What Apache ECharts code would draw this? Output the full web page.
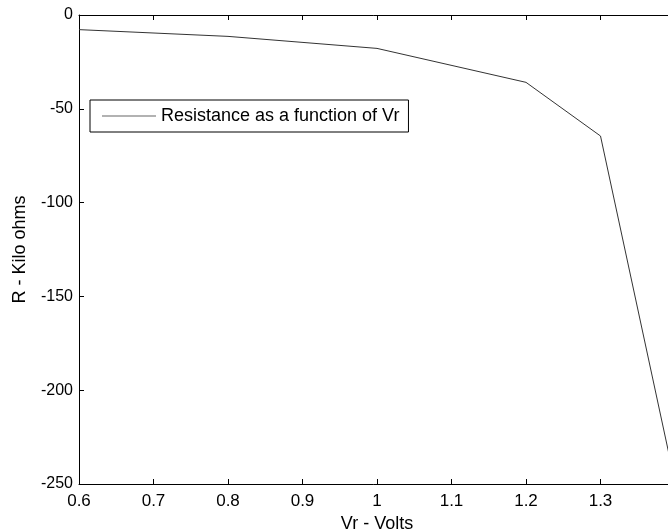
<!DOCTYPE html>
<html>
<head>
<meta charset="utf-8">
<script src="https://cdn.jsdelivr.net/npm/echarts@6/dist/echarts.min.js"></script>
<style>
  html, body { margin: 0; padding: 0; background: #fff; }
  #chart { width: 668px; height: 532px; }
</style>
</head>
<body>
<div id="chart"></div>
<script>
// Measured resistance versus reverse voltage
const voltage = [0.6, 0.8, 1.0, 1.2, 1.3, 1.4];
const resistance = [-7.8, -11.4, -17.8, -35.9, -64.5, -249];
const xTicks = [0.6, 0.7, 0.8, 0.9, 1.0, 1.1, 1.2, 1.3];
const yTicks = [0, -50, -100, -150, -200, -250];

const seriesName = 'Resistance as a function of Vr';
const font = 'Liberation Sans, Arial, sans-serif';

const chart = echarts.init(document.getElementById('chart'));

const fmtX = v => {
  const r = Math.round(v * 10) / 10;
  return xTicks.some(t => Math.abs(t - r) < 1e-9) ? String(r) : '';
};

chart.setOption({
  animation: false,
  backgroundColor: '#fff',
  // plot frame runs slightly past the right edge of the canvas
  grid: { left: 79, top: 15, width: 596, bottom: 48, outerBoundsMode: 'none', containLabel: false },
  legend: {
    left: 90, top: 100,
    data: [seriesName],
    icon: 'rect',
    backgroundColor: '#fff',
    borderColor: '#000', borderWidth: 1, borderRadius: 0,
    padding: [7, 9, 7, 12],
    itemWidth: 54, itemHeight: 1,
    itemStyle: { color: '#666' },
    textStyle: { fontFamily: font, fontSize: 18, color: '#000', lineHeight: 18 }
  },
  xAxis: [{
    type: 'value', position: 'bottom',
    min: 0.6, max: 1.4, interval: 0.1,
    name: 'Vr - Volts', nameLocation: 'middle', nameGap: 17,
    nameTextStyle: { fontFamily: font, fontSize: 18, color: '#000' },
    axisLine: { onZero: false, lineStyle: { color: '#000', width: 1 } },
    axisTick: { inside: true, length: 5, lineStyle: { color: '#000' } },
    axisLabel: { formatter: fmtX, fontFamily: font, fontSize: 17, color: '#000', margin: 9 },
    splitLine: { show: false }
  }, {
    type: 'value', position: 'top',
    min: 0.6, max: 1.4, interval: 0.1,
    axisLine: { onZero: false, lineStyle: { color: '#000', width: 1 } },
    axisTick: { inside: true, length: 5, lineStyle: { color: '#000' } },
    axisLabel: { show: false },
    splitLine: { show: false }
  }],
  yAxis: {
    type: 'value',
    min: -250, max: 0, interval: 50,
    name: 'R - Kilo ohms', nameLocation: 'middle', nameGap: 50,
    nameTextStyle: { fontFamily: font, fontSize: 18, color: '#000' },
    axisLine: { show: true, onZero: false, lineStyle: { color: '#000', width: 1 } },
    axisTick: { show: true, inside: true, length: 5, lineStyle: { color: '#000' } },
    axisLabel: {
      fontFamily: font, fontSize: 16, color: '#000', margin: 6,
      formatter: v => (yTicks.includes(v) ? String(v) : '')
    },
    splitLine: { show: false }
  },
  series: [{
    name: seriesName,
    type: 'line',
    symbol: 'none',
    data: voltage.map((v, i) => [v, resistance[i]]),
    lineStyle: { color: '#333', width: 1 }
  }]
});
</script>
</body>
</html>
